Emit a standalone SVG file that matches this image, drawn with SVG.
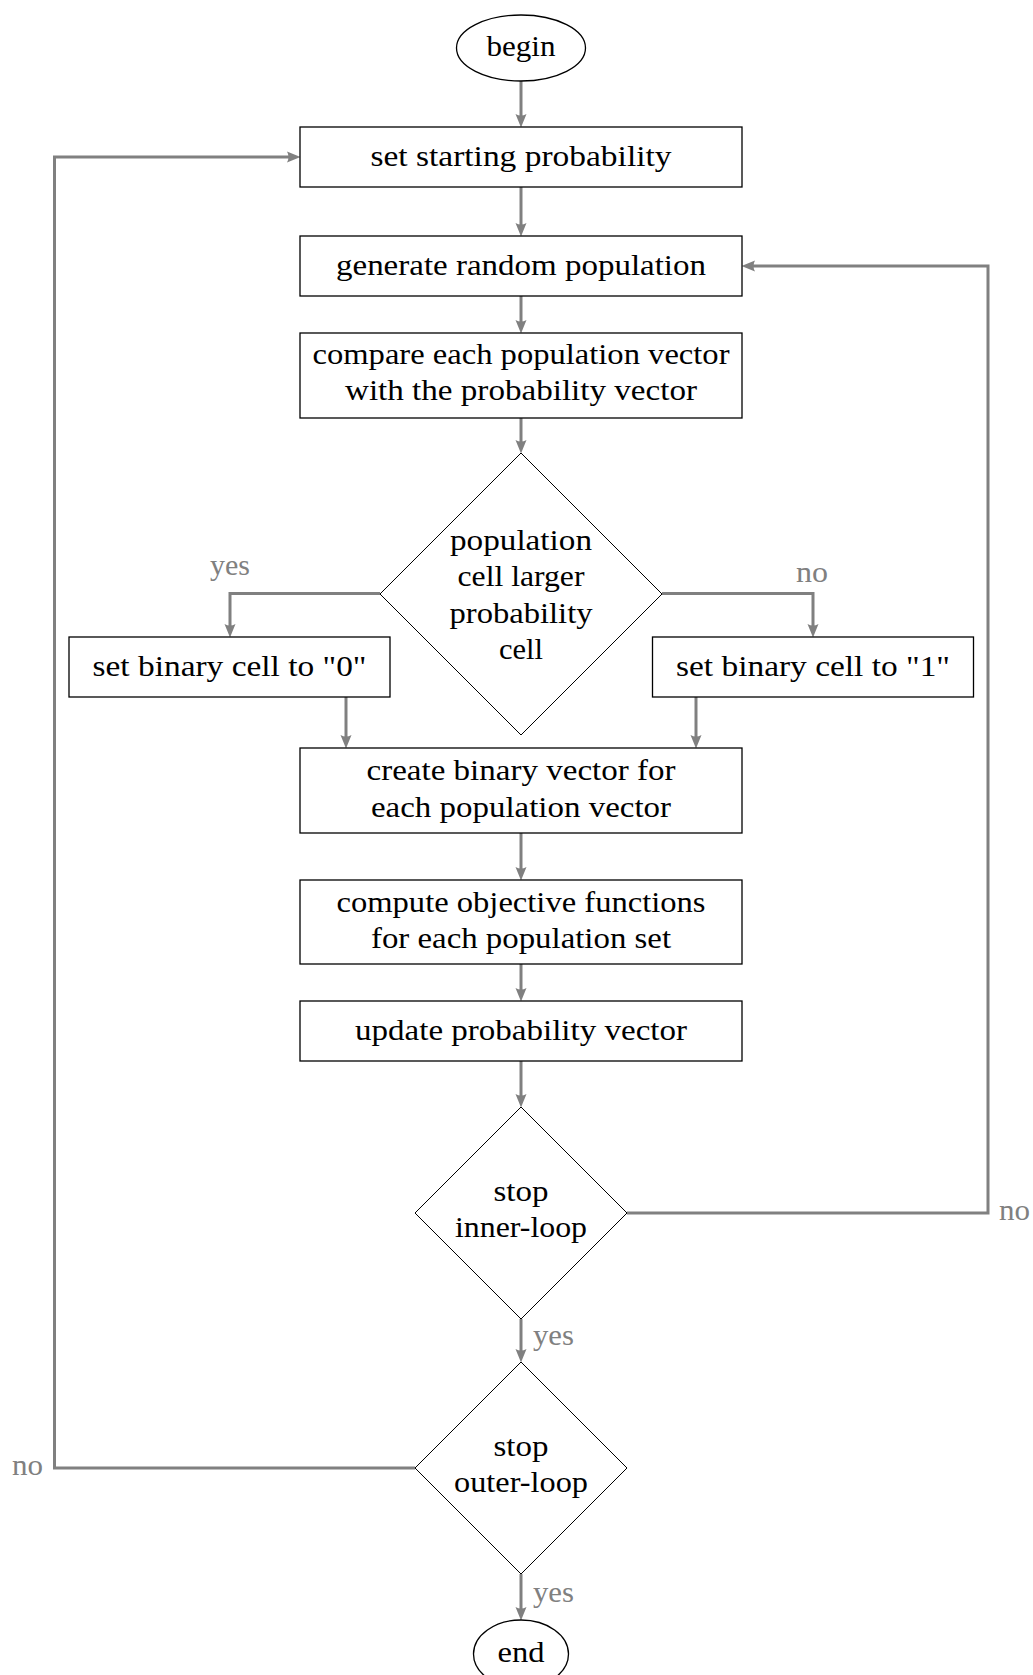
<svg xmlns="http://www.w3.org/2000/svg" width="1033" height="1675" viewBox="0 0 1033 1675">
<style>
.n{fill:#fff;stroke:#000;stroke-width:1.3}
.d{fill:#fff;stroke:#000;stroke-width:1}
.t{font-family:"Liberation Serif","Times New Roman",serif;font-size:29px;fill:#000;text-anchor:middle}
.l{font-family:"Liberation Serif","Times New Roman",serif;font-size:29px;fill:#808080}
.c{fill:none;stroke:#808080;stroke-width:3;marker-end:url(#ah)}
</style>
<defs>
<marker id="ah" markerUnits="userSpaceOnUse" viewBox="0 -6 14 12" markerWidth="14" markerHeight="12" refX="7" refY="0" orient="auto">
<path d="M13.5,0 L0,-5.5 Q3,0 0,5.5 Z" fill="#808080"/>
</marker>
</defs>
<rect width="1033" height="1675" fill="#fff"/>
<g id="connectors">
<path class="c" d="M521,81 V121"/>
<path class="c" d="M521,187 V230"/>
<path class="c" d="M521,296 V327"/>
<path class="c" d="M521,418 V447"/>
<path class="c" d="M380,593.5 H230 V631"/>
<path class="c" d="M662,593.5 H813 V631"/>
<path class="c" d="M346,697 V742"/>
<path class="c" d="M696,697 V742"/>
<path class="c" d="M521,833 V874"/>
<path class="c" d="M521,964 V995"/>
<path class="c" d="M521,1061 V1101"/>
<path class="c" d="M521,1319 V1356"/>
<path class="c" d="M521,1574 V1614"/>
<path class="c" d="M627,1213 H988 V266 H748"/>
<path class="c" d="M415,1468 H54.5 V157 H294"/>
<text class="l" x="230" y="575" text-anchor="middle" textLength="40" lengthAdjust="spacingAndGlyphs">yes</text>
<text class="l" x="812" y="582" text-anchor="middle" textLength="32" lengthAdjust="spacingAndGlyphs">no</text>
<text class="l" x="1014.5" y="1220" text-anchor="middle" textLength="31" lengthAdjust="spacingAndGlyphs">no</text>
<text class="l" x="27.5" y="1475" text-anchor="middle" textLength="31" lengthAdjust="spacingAndGlyphs">no</text>
<text class="l" x="533" y="1345" textLength="41" lengthAdjust="spacingAndGlyphs">yes</text>
<text class="l" x="533" y="1602" textLength="41" lengthAdjust="spacingAndGlyphs">yes</text>
</g>
<g id="begin">
<ellipse class="n" cx="521" cy="48" rx="64.5" ry="33"/>
<text class="t" x="521" y="56" textLength="69" lengthAdjust="spacingAndGlyphs">begin</text>
</g>
<g id="set-starting">
<rect class="n" x="300" y="127" width="442" height="60"/>
<text class="t" x="521" y="166" textLength="301" lengthAdjust="spacingAndGlyphs">set starting probability</text>
</g>
<g id="generate">
<rect class="n" x="300" y="236" width="442" height="60"/>
<text class="t" x="521" y="275" textLength="370" lengthAdjust="spacingAndGlyphs">generate random population</text>
</g>
<g id="compare">
<rect class="n" x="300" y="333" width="442" height="85"/>
<text class="t" x="521" y="364" textLength="417" lengthAdjust="spacingAndGlyphs">compare each population vector</text>
<text class="t" x="521" y="400" textLength="352" lengthAdjust="spacingAndGlyphs">with the probability vector</text>
</g>
<g id="decision-cell">
<path class="d" d="M521,453 L662,594 L521,735 L380,594 Z"/>
<text class="t" x="521" y="550" textLength="142" lengthAdjust="spacingAndGlyphs">population</text>
<text class="t" x="521" y="586" textLength="127" lengthAdjust="spacingAndGlyphs">cell larger</text>
<text class="t" x="521" y="622.5" textLength="143" lengthAdjust="spacingAndGlyphs">probability</text>
<text class="t" x="521" y="659" textLength="44" lengthAdjust="spacingAndGlyphs">cell</text>
</g>
<g id="set-zero">
<rect class="n" x="69" y="637" width="321" height="60"/>
<text class="t" x="229.5" y="676" textLength="274" lengthAdjust="spacingAndGlyphs">set binary cell to "0"</text>
</g>
<g id="set-one">
<rect class="n" x="652.5" y="637" width="321" height="60"/>
<text class="t" x="813" y="676" textLength="274" lengthAdjust="spacingAndGlyphs">set binary cell to "1"</text>
</g>
<g id="create-binary">
<rect class="n" x="300" y="748" width="442" height="85"/>
<text class="t" x="521" y="780" textLength="309" lengthAdjust="spacingAndGlyphs">create binary vector for</text>
<text class="t" x="521" y="816.5" textLength="300" lengthAdjust="spacingAndGlyphs">each population vector</text>
</g>
<g id="compute">
<rect class="n" x="300" y="880" width="442" height="84"/>
<text class="t" x="521" y="912" textLength="369" lengthAdjust="spacingAndGlyphs">compute objective functions</text>
<text class="t" x="521" y="948" textLength="300" lengthAdjust="spacingAndGlyphs">for each population set</text>
</g>
<g id="update">
<rect class="n" x="300" y="1001" width="442" height="60"/>
<text class="t" x="521" y="1040" textLength="332" lengthAdjust="spacingAndGlyphs">update probability vector</text>
</g>
<g id="stop-inner">
<path class="d" d="M521,1107 L627,1213 L521,1319 L415,1213 Z"/>
<text class="t" x="521" y="1201" textLength="55" lengthAdjust="spacingAndGlyphs">stop</text>
<text class="t" x="521" y="1237" textLength="132" lengthAdjust="spacingAndGlyphs">inner-loop</text>
</g>
<g id="stop-outer">
<path class="d" d="M521,1362 L627,1468 L521,1574 L415,1468 Z"/>
<text class="t" x="521" y="1456" textLength="55" lengthAdjust="spacingAndGlyphs">stop</text>
<text class="t" x="521" y="1492" textLength="134" lengthAdjust="spacingAndGlyphs">outer-loop</text>
</g>
<g id="end">
<ellipse class="n" cx="521" cy="1654" rx="47.5" ry="34"/>
<text class="t" x="521" y="1662" textLength="47" lengthAdjust="spacingAndGlyphs">end</text>
</g>
</svg>
